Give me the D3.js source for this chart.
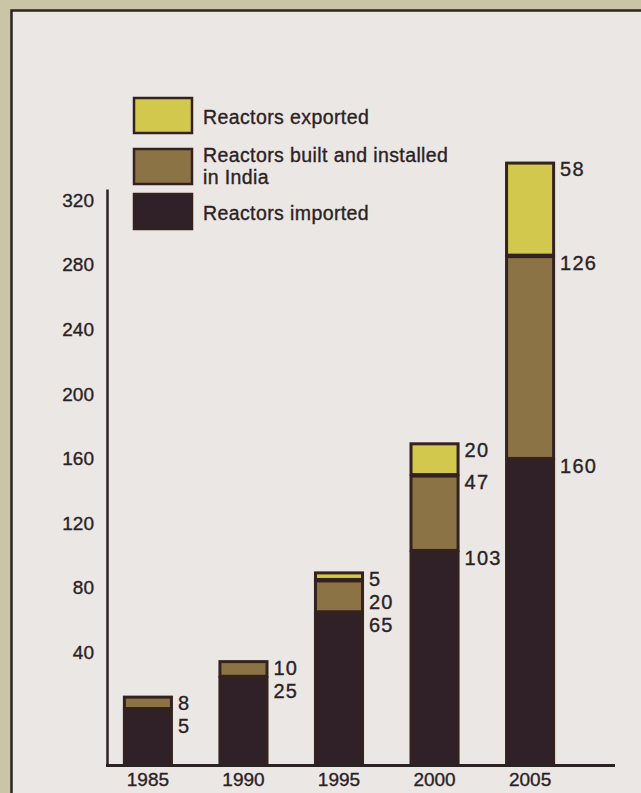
<!DOCTYPE html>
<html>
<head>
<meta charset="utf-8">
<script src="https://cdn.jsdelivr.net/npm/d3@7"></script>
<style>
  html, body { margin: 0; padding: 0; background: #c9c5a6; }
  svg { display: block; }
  text { font-family: "Liberation Sans", Arial, Helvetica, sans-serif; fill: #2b2224; stroke: #2b2224; stroke-width: 0.35px; }
</style>
</head>
<body>
<svg id="chart" width="641" height="793"></svg>
<script>
// Reactor counts by year, stacked bottom-to-top
const years = ["1985", "1990", "1995", "2000", "2005"];
const imported = [5, 25, 65, 103, 160];
const builtInIndia = [8, 10, 20, 47, 126];
const exported = [0, 0, 5, 20, 58];
const yTicks = [40, 80, 120, 160, 200, 240, 280, 320];

const seriesNames = ["Reactors imported", "Reactors built and installed in India", "Reactors exported"];
const seriesColors = ["#2f2127", "#8c7346", "#d3c84e"];
const outline = "#33221f";

const svg = d3.select("#chart");

// Paper panel with a dark rule along its top and left edges
svg.append("rect").attr("x", 11).attr("y", 10).attr("width", 630).attr("height", 783).attr("fill", "#ebe7e4");
svg.append("path").attr("d", "M11.5,793 V10.5 H641").attr("fill", "none")
  .attr("stroke", "#2d2522").attr("stroke-width", 2.5);

// Scales: the value axis starts below zero, with the bars rising from the axis floor
const x = d3.scaleBand().domain(years).range([99, 579]).paddingInner(0.476).paddingOuter(0.25);
const y = d3.scaleLinear().domain([-30, 327]).range([765, 189]);

// Build stacked rows from the series arrays
const rows = years.map((yr, i) => ({ year: yr, imported: imported[i], built: builtInIndia[i], exported: exported[i] }));
const keys = ["imported", "built", "exported"];
const stack = d3.stack().keys(keys)(rows);
const floor = y.domain()[0];

const bars = svg.append("g");
stack.forEach((layer, k) => {
  bars.selectAll(null)
    .data(layer.filter(d => d[1] - d[0] > 0))
    .join("rect")
    .attr("x", d => x(d.data.year) + 1.5)
    .attr("width", x.bandwidth() - 3)
    .attr("y", d => y(d[1]) + 1.5)
    .attr("height", d => (k === 0 ? y(floor) : y(d[0])) - y(d[1]) - 1.5)
    .attr("fill", seriesColors[k])
    .attr("stroke", outline)
    .attr("stroke-width", 3);
});

// Value labels beside each segment, top-aligned with the segment and kept apart
const labelGap = 23;
rows.forEach((r, i) => {
  const segs = [];
  let cum = 0;
  keys.forEach(key => {
    const v = r[key];
    cum += v;
    if (v > 0) segs.push({ value: v, top: y(cum) });
  });
  segs.sort((a, b) => a.top - b.top);
  let prev = -Infinity;
  segs.forEach(s => { s.pos = Math.max(s.top, prev + labelGap); prev = s.pos; });
  svg.append("g").selectAll("text")
    .data(segs)
    .join("text")
    .attr("x", x(r.year) + x.bandwidth() + 5)
    .attr("y", s => s.pos + 14.5)
    .attr("font-size", 20)
    .attr("letter-spacing", 1.2)
    .text(s => s.value);
});

// Axes
const yAxis = svg.append("g")
  .attr("transform", `translate(${107},0)`)
  .call(d3.axisLeft(y).tickValues(yTicks).tickSize(0).tickPadding(13).tickSizeOuter(0));
yAxis.select(".domain").attr("stroke", "#2b2224").attr("stroke-width", 2.5);
yAxis.selectAll("text").attr("font-size", 19).attr("fill", "#2b2224")
  .style("font-family", "'Liberation Sans', Arial, sans-serif");

svg.append("line")
  .attr("x1", 106).attr("x2", 615)
  .attr("y1", y(floor) + 0.5).attr("y2", y(floor) + 0.5)
  .attr("stroke", "#2b2224").attr("stroke-width", 3);

const xAxis = svg.append("g")
  .attr("transform", `translate(0,${y(floor) + 2})`)
  .call(d3.axisBottom(x).tickSize(0).tickPadding(6));
xAxis.select(".domain").remove();
xAxis.selectAll("text").attr("font-size", 19).attr("fill", "#2b2224")
  .style("font-family", "'Liberation Sans', Arial, sans-serif");

// Legend, top entry first; the long entry wraps onto a second line
const legendItems = [
  { k: 2, lines: ["Reactors exported"], top: 98, base: 124 },
  { k: 1, lines: ["Reactors built and installed", "in India"], top: 149, base: 161.5 },
  { k: 0, lines: ["Reactors imported"], top: 194, base: 220 }
];
const legend = svg.append("g");
legendItems.forEach(it => {
  legend.append("rect")
    .attr("x", 134).attr("y", it.top).attr("width", 58).attr("height", 35)
    .attr("fill", seriesColors[it.k]).attr("stroke", outline).attr("stroke-width", 2.5);
  const t = legend.append("text")
    .attr("x", 203).attr("y", it.base)
    .attr("font-size", 19.5).attr("letter-spacing", 0.4);
  it.lines.forEach((ln, j) => {
    t.append("tspan").attr("x", 203).attr("dy", j === 0 ? 0 : 22).text(ln);
  });
});
</script>
</body>
</html>
